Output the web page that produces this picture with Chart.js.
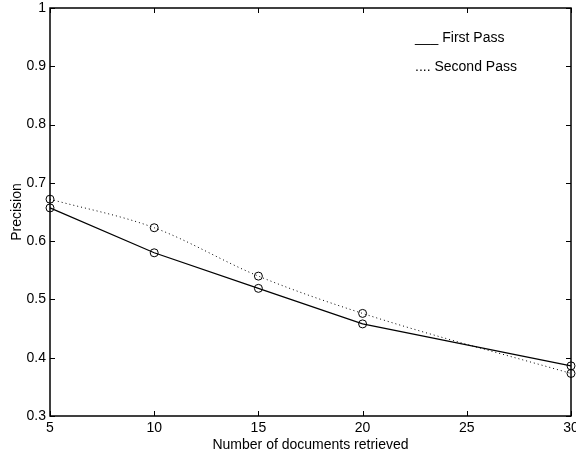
<!DOCTYPE html>
<html>
<head>
<meta charset="utf-8">
<script src="https://cdn.jsdelivr.net/npm/chart.js@4.4.1/dist/chart.umd.min.js"></script>
<style>
  html, body { margin: 0; padding: 0; background: #fff; }
  #wrap { width: 576px; height: 455px; position: relative; }
</style>
</head>
<body>
<div id="wrap"><canvas id="myChart"></canvas></div>
<script>
// values
const docs = [5, 10, 15, 20, 30];
const firstPass = [0.657, 0.580, 0.519, 0.458, 0.386];
const secondPass = [0.672, 0.623, 0.540, 0.476, 0.373];
const seriesNames = ["First Pass", "Second Pass"];
const legendMarks = ["___", "...."];
const xTicks = [5, 10, 15, 20, 25, 30];
const yTicks = [0.3, 0.4, 0.5, 0.6, 0.7, 0.8, 0.9, 1];

const FONT = "'Liberation Sans', Arial, Helvetica, sans-serif";

function pts(ys) {
    return docs.map((d, i) => ({x: d, y: ys[i]}));
}

// matlab style box with inward ticks on all four sides
const boxPlugin = {
    id: 'box',
    afterDatasetsDraw(chart) {
        const {ctx, chartArea: a, scales} = chart;
        const len = 5;
        ctx.save();
        ctx.strokeStyle = '#000';
        ctx.lineWidth = 1;
        ctx.beginPath();
        xTicks.forEach(v => {
            const px = Math.round(scales.x.getPixelForValue(v)) + 0.5;
            ctx.moveTo(px, a.bottom); ctx.lineTo(px, a.bottom - len);
            ctx.moveTo(px, a.top); ctx.lineTo(px, a.top + len);
        });
        yTicks.forEach(v => {
            const py = Math.round(scales.y.getPixelForValue(v)) + 0.5;
            ctx.moveTo(a.left, py); ctx.lineTo(a.left + len, py);
            ctx.moveTo(a.right, py); ctx.lineTo(a.right - len, py);
        });
        ctx.stroke();
        ctx.lineWidth = 1.5;
        ctx.strokeRect(a.left, a.top, a.right - a.left, a.bottom - a.top);

        // text "legend" inside the axes
        ctx.fillStyle = '#000';
        ctx.font = '14px ' + FONT;
        ctx.textBaseline = 'middle';
        ctx.textAlign = 'left';
        ctx.fillText(legendMarks[0] + ' ' + seriesNames[0], 415, 38);
        ctx.fillText(legendMarks[1] + ' ' + seriesNames[1], 415, 67);
        ctx.restore();
    }
};

new Chart("myChart", {
    type: "line",
    data: {
        datasets: [{
            label: seriesNames[0],
            data: pts(firstPass),
            borderColor: '#000',
            borderWidth: 1.2,
            pointStyle: 'circle',
            pointRadius: 4,
            pointBorderWidth: 1,
            pointBorderColor: '#000',
            pointBackgroundColor: 'rgba(0,0,0,0)',
            tension: 0,
            clip: false
        }, {
            label: seriesNames[1],
            data: pts(secondPass),
            borderColor: '#000',
            borderWidth: 1,
            borderDash: [1, 3],
            pointStyle: 'circle',
            pointRadius: 4,
            pointBorderWidth: 1,
            pointBorderColor: '#000',
            pointBackgroundColor: 'rgba(0,0,0,0)',
            cubicInterpolationMode: 'monotone',
            clip: false
        }]
    },
    options: {
        responsive: true,
        maintainAspectRatio: false,
        animation: false,
        layout: {padding: {top: 8, right: 4, left: 0, bottom: 0}},
        plugins: {
            legend: {display: false},
            tooltip: {enabled: false}
        },
        scales: {
            x: {
                type: 'linear',
                min: 5,
                max: 30,
                grid: {display: false, drawTicks: false},
                border: {display: false},
                afterBuildTicks: s => { s.ticks = xTicks.map(v => ({value: v})); },
                ticks: {
                    color: '#000',
                    padding: 4,
                    maxRotation: 0,
                    font: {family: FONT, size: 14}
                },
                title: {
                    display: true,
                    text: 'Number of documents retrieved',
                    color: '#000',
                    font: {family: FONT, size: 14},
                    padding: {top: 0, bottom: 1}
                },
                afterFit: s => { s.height = 39; s.paddingLeft = 0; s.paddingRight = 0; }
            },
            y: {
                type: 'linear',
                min: 0.3,
                max: 1,
                grid: {display: false, drawTicks: false},
                border: {display: false},
                afterBuildTicks: s => { s.ticks = yTicks.map(v => ({value: v})); },
                ticks: {
                    color: '#000',
                    padding: 4,
                    font: {family: FONT, size: 14},
                    callback: v => String(Math.round(v * 10) / 10)
                },
                title: {
                    display: true,
                    text: 'Precision',
                    color: '#000',
                    font: {family: FONT, size: 14},
                    padding: {top: 9, bottom: 0}
                },
                afterFit: s => { s.width = 50; s.paddingTop = 0; s.paddingBottom = 0; }
            }
        }
    },
    plugins: [boxPlugin]
});
</script>
</body>
</html>
